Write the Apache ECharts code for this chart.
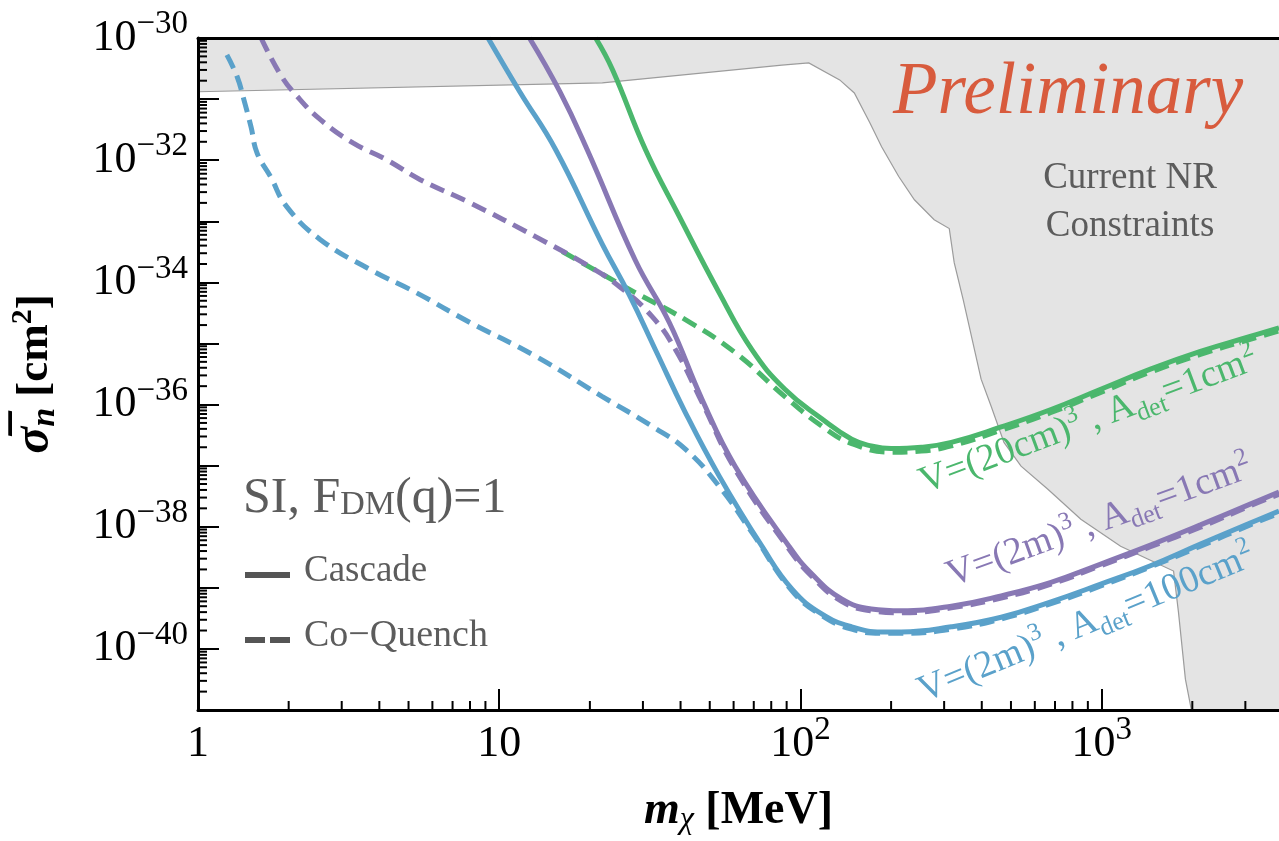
<!DOCTYPE html>
<html><head><meta charset="utf-8">
<script src="https://cdn.jsdelivr.net/npm/echarts@6/dist/echarts.min.js"></script>
<style>html,body{margin:0;padding:0;background:#fff}#c{width:1279px;height:841px}</style>
</head><body><div id="c"></div>
<script>
// ---------- axis ranges / tick labels ----------
const X_MIN = 1, X_MAX = 3880;
const Y_MIN = 1e-41, Y_MAX = 1e-30;
const xTickExps = [0, 1, 2, 3];
const yTickExps = [-41, -40, -39, -38, -37, -36, -35, -34, -33, -32, -31, -30];
const yLabelExps = [-40, -38, -36, -34, -32, -30];

// ---------- Current NR constraints boundary ----------
const nrMass  = [1, 22.0, 86.8, 106.6, 135, 151, 170, 186, 212, 239, 278, 312, 324, 347, 398, 430, 474, 540, 663, 853, 1156, 1422, 1733, 1799, 1897, 1986];
const nrSigma = [1.32e-31, 1.84e-31, 3.6e-31, 3.9e-31, 2.06e-31, 1.26e-31, 4.1e-32, 1.66e-32, 5.4e-33, 2.25e-33, 1.06e-33, 7.6e-34, 2.1e-34, 5.2e-35, 2.6e-36, 9.3e-37, 2.4e-37, 9.8e-38, 4.1e-38, 1.33e-38, 4.8e-39, 2.96e-39, 1.88e-39, 4.0e-40, 3.2e-41, 1e-41];

// ---------- V=(20cm)^3, A=1cm^2 (green) ----------
const greenCascadeMass  = [20.9, 23.8, 30.6, 39.6, 53.7, 69.0, 88.8, 118, 148, 172, 200, 252, 317, 464, 679, 993, 1452, 2128, 3112, 3880];
const greenCascadeSigma = [1e-30, 3.0e-31, 1.48e-32, 1.2e-33, 6.8e-35, 7.9e-36, 1.78e-36, 5.8e-37, 2.7e-37, 2.1e-37, 1.9e-37, 2.0e-37, 2.4e-37, 4.3e-37, 8.3e-37, 1.78e-36, 3.8e-36, 7.4e-36, 1.3e-35, 1.8e-35];
const greenQuenchMass   = [16.2, 21.5, 28.3, 41.5, 60.7, 88.8, 118, 148, 200, 252, 317, 464, 679, 993, 1452, 2128, 3112, 3880];
const greenQuenchSigma  = [3.2e-34, 1.45e-34, 6.8e-35, 2.45e-35, 7.1e-36, 1.35e-36, 4.4e-37, 2.3e-37, 1.66e-37, 1.73e-37, 2.1e-37, 3.8e-37, 7.4e-37, 1.58e-36, 3.4e-36, 6.6e-36, 1.17e-35, 1.6e-35];

// ---------- V=(2m)^3, A=1cm^2 (purple) ----------
const purpleCascadeMass  = [12.6, 15.9, 19.6, 28.3, 36.7, 47.2, 60.7, 91.6, 109, 137, 172, 216, 317, 464, 679, 993, 1452, 2128, 3112, 3880];
const purpleCascadeSigma = [1e-30, 1.32e-31, 1.48e-32, 2.3e-34, 2.2e-35, 1.2e-36, 9.8e-38, 4.8e-39, 1.7e-39, 6.6e-40, 4.5e-40, 4.2e-40, 5.0e-40, 7.4e-40, 1.23e-39, 2.45e-39, 5.0e-39, 1.07e-38, 2.34e-38, 3.7e-38];
const purpleQuenchMass   = [1.62, 1.88, 2.13, 2.55, 3.28, 4.22, 5.47, 8.0, 13.2, 20.0, 25.1, 32.2, 38.5, 47.2, 60.7, 91.6, 109, 137, 172, 216, 317, 464, 679, 993, 1452, 2128, 3112, 3880];
const purpleQuenchSigma  = [1e-30, 2.5e-31, 1.12e-31, 4.6e-32, 1.9e-32, 1.02e-32, 4.8e-33, 2.0e-33, 5.6e-34, 1.8e-34, 8.5e-35, 2.75e-35, 7.9e-36, 1.07e-36, 8.7e-38, 4.3e-39, 1.55e-39, 6.0e-40, 4.2e-40, 3.9e-40, 4.7e-40, 6.8e-40, 1.15e-39, 2.3e-39, 4.7e-39, 9.8e-39, 2.2e-38, 3.4e-38];

// ---------- V=(2m)^3, A=100cm^2 (blue) ----------
const blueCascadeMass  = [9.18, 11.7, 15.4, 22.0, 27.0, 33.0, 41.5, 53.7, 74.5, 93.8, 118, 148, 186, 216, 317, 464, 679, 993, 1452, 2128, 3112, 3880];
const blueCascadeSigma = [1e-30, 1.32e-31, 1.48e-32, 4.2e-34, 6.3e-35, 7.9e-36, 7.4e-37, 6.8e-38, 4.8e-39, 9.5e-40, 3.7e-40, 2.3e-40, 1.9e-40, 1.9e-40, 2.3e-40, 3.3e-40, 5.9e-40, 1.15e-39, 2.3e-39, 5.2e-39, 1.15e-38, 1.8e-38];
const blueQuenchMass   = [1.247, 1.35, 1.42, 1.50, 1.57, 1.74, 1.97, 2.55, 3.73, 5.3, 8.0, 13.2, 22.0, 32.2, 41.5, 53.7, 69.0, 93.8, 118, 148, 186, 216, 317, 464, 679, 993, 1452, 2128, 3112, 3880];
const blueQuenchSigma  = [5.3e-31, 2.3e-31, 9.8e-32, 3.5e-32, 1.32e-32, 5.4e-33, 1.74e-33, 5.0e-34, 1.62e-34, 6.8e-35, 2.2e-35, 6.2e-36, 1.35e-36, 4.4e-37, 1.86e-37, 4.6e-38, 8.1e-39, 8.9e-40, 3.5e-40, 2.1e-40, 1.8e-40, 1.8e-40, 2.1e-40, 3.1e-40, 5.5e-40, 1.07e-39, 2.2e-39, 4.8e-39, 1.07e-38, 1.66e-38];

// ---------- styling ----------
const FONT = '"Liberation Serif","Times New Roman",serif';
const GREEN = '#4bb76d', PURPLE = '#8878b4', BLUE = '#5aa1ca', GREY = '#5c5c5c';
const log = Math.log10;

const chart = echarts.init(document.getElementById('c'), null, {renderer: 'canvas'});

function powLabel(v) {
  const n = Math.round(v);
  if (Math.abs(v - n) > 1e-6) return '';
  if (n === 0) return '{b|1}';
  if (n === 1) return '{b|10}';
  return '{b|10}{s|' + (n < 0 ? '\u2212' + (-n) : n) + '}';
}
const labRich = {
  b: {fontFamily: FONT, fontSize: 44, lineHeight: 60, color: '#000'},
  s: {fontFamily: FONT, fontSize: 33, lineHeight: 33, verticalAlign: 'top', color: '#000'}
};

function lineSeries(ms, ss, color, dashed, z) {
  return {
    type: 'line', data: ms.map((m, i) => [log(m), log(ss[i])]),
    showSymbol: false, symbol: 'none', smooth: 0.45,
    lineStyle: {color: color, width: 5, type: dashed ? [15, 8] : 'solid', cap: 'butt'},
    z: z, silent: true, animation: false, clip: true
  };
}

// minor tick positions (2..9 per decade)
const minorData = [];
for (let d = 0; d <= 3; d++) for (let k = 2; k <= 9; k++) {
  const v = k * Math.pow(10, d);
  if (v < X_MAX) minorData.push([log(v), log(Y_MIN), 0]);
}
for (let d = -41; d < -30; d++) for (let k = 2; k <= 9; k++) {
  minorData.push([log(X_MIN), d + log(k), 1]);
}

function curveLabel(x, y, deg, text, color) {
  return {type: 'text', x: x, y: y, rotation: deg * Math.PI / 180, z: 20, style: {
    text: text, align: 'left', verticalAlign: 'middle', textAlign: 'left', textVerticalAlign: 'middle',
    rich: {
      a: {fontFamily: FONT, fontSize: 38, lineHeight: 48, fill: color},
      p: {fontFamily: FONT, fontSize: 25, lineHeight: 25, fill: color, verticalAlign: 'top'},
      d: {fontFamily: FONT, fontSize: 26, lineHeight: 34, fill: color, verticalAlign: 'bottom'}
    }}};
}

const option = {
  backgroundColor: '#fff',
  animation: false,
  grid: {left: 194, right: 0, top: 38, bottom: 130, containLabel: false},
  xAxis: [{
    type: 'value', position: 'bottom', min: log(X_MIN), max: log(X_MAX), z: 10,
    axisLine: {show: true, onZero: false, lineStyle: {color: '#000', width: 3}},
    axisTick: {show: true, inside: true, length: 21, lineStyle: {color: '#000', width: 2}, customValues: xTickExps},
    axisLabel: {show: true, margin: 4, formatter: powLabel, rich: labRich, customValues: xTickExps},
    splitLine: {show: false},
    name: '{m|m}{c|\u03c7}{t| [MeV]}', nameLocation: 'middle', nameGap: 76,
    nameTextStyle: {rich: {
      m: {fontFamily: FONT, fontSize: 46, fontWeight: 'bold', fontStyle: 'italic', color: '#000', lineHeight: 50},
      c: {fontFamily: FONT, fontSize: 32, fontStyle: 'italic', color: '#000', verticalAlign: 'bottom', lineHeight: 24},
      t: {fontFamily: FONT, fontSize: 46, fontWeight: 'bold', color: '#000', lineHeight: 50}
    }}
  }, {
    type: 'value', position: 'top', min: log(X_MIN), max: log(X_MAX), z: 10,
    axisLine: {show: true, onZero: false, lineStyle: {color: '#000', width: 3}},
    axisTick: {show: false}, axisLabel: {show: false}, splitLine: {show: false}
  }],
  yAxis: [{
    type: 'value', min: log(Y_MIN), max: log(Y_MAX), z: 10,
    axisLine: {show: true, onZero: false, lineStyle: {color: '#000', width: 3}},
    axisTick: {show: true, inside: true, length: 21, lineStyle: {color: '#000', width: 2}, customValues: yTickExps},
    axisLabel: {show: true, margin: 10, formatter: powLabel, rich: labRich, customValues: yLabelExps},
    splitLine: {show: false},
    name: '{s|\u03c3\u0305}{n|n}{t| [cm}{p|2}{t|]}', nameLocation: 'middle', nameGap: 136, nameRotate: 90,
    nameTextStyle: {rich: {
      s: {fontFamily: FONT, fontSize: 50, fontWeight: 'bold', fontStyle: 'italic', color: '#000', lineHeight: 54},
      n: {fontFamily: FONT, fontSize: 34, fontWeight: 'bold', fontStyle: 'italic', color: '#000', verticalAlign: 'bottom', lineHeight: 32},
      t: {fontFamily: FONT, fontSize: 45, fontWeight: 'bold', color: '#000', lineHeight: 54},
      p: {fontFamily: FONT, fontSize: 30, fontWeight: 'bold', color: '#000', verticalAlign: 'top', lineHeight: 30}
    }}
  }],
  series: [
    {
      type: 'custom', z: 1, silent: true, clip: true,
      data: [[0, 0]],
      renderItem: function (params, api) {
        const pts = nrMass.map((m, i) => api.coord([log(m), log(nrSigma[i])]));
        const poly = pts.concat([
          api.coord([log(X_MAX), log(Y_MIN)]),
          api.coord([log(X_MAX), log(Y_MAX)]),
          api.coord([log(X_MIN), log(Y_MAX)])
        ]);
        return {type: 'group', children: [
          {type: 'polygon', shape: {points: poly}, style: {fill: '#e4e4e4', stroke: null}},
          {type: 'polyline', shape: {points: pts}, style: {stroke: '#9c9c9c', lineWidth: 1.2, fill: null}}
        ]};
      }
    },
    lineSeries(greenQuenchMass, greenQuenchSigma, GREEN, true, 3),
    lineSeries(purpleQuenchMass, purpleQuenchSigma, PURPLE, true, 4),
    lineSeries(blueQuenchMass, blueQuenchSigma, BLUE, true, 5),
    lineSeries(greenCascadeMass, greenCascadeSigma, GREEN, false, 6),
    lineSeries(purpleCascadeMass, purpleCascadeSigma, PURPLE, false, 7),
    lineSeries(blueCascadeMass, blueCascadeSigma, BLUE, false, 8),
    {
      type: 'custom', z: 12, silent: true, clip: false,
      data: minorData,
      renderItem: function (params, api) {
        const kind = api.value(2);
        const c = api.coord([api.value(0), api.value(1)]);
        if (kind === 0) {
          return {type: 'line', shape: {x1: c[0], y1: c[1], x2: c[0], y2: c[1] - 9}, style: {stroke: '#000', lineWidth: 2}};
        }
        return {type: 'line', shape: {x1: c[0], y1: c[1], x2: c[0] + 9, y2: c[1]}, style: {stroke: '#000', lineWidth: 2}};
      }
    }
  ],
  graphic: [
    {type: 'text', x: 893, y: 94, z: 20, style: {text: 'Preliminary', font: 'italic 73px "Liberation Serif"', fill: '#d85b3d', textAlign: 'left', textVerticalAlign: 'middle', align: 'left', verticalAlign: 'middle'}},
    {type: 'text', x: 1130, y: 178, z: 20, style: {text: 'Current NR', font: '37px "Liberation Serif"', fill: GREY, textAlign: 'center', textVerticalAlign: 'middle', align: 'center', verticalAlign: 'middle'}},
    {type: 'text', x: 1130, y: 226, z: 20, style: {text: 'Constraints', font: '37px "Liberation Serif"', fill: GREY, textAlign: 'center', textVerticalAlign: 'middle', align: 'center', verticalAlign: 'middle'}},
    {type: 'text', x: 243, y: 474, z: 20, style: {
      text: '{a|SI, F}{d|DM}{a|(q)=1}', textAlign: 'left', textVerticalAlign: 'top', align: 'left', verticalAlign: 'top',
      rich: {
        a: {fontFamily: FONT, fontSize: 50, lineHeight: 48, fill: GREY, verticalAlign: 'top'},
        d: {fontFamily: FONT, fontSize: 34, lineHeight: 20, fill: GREY, verticalAlign: 'bottom'}
      }}},
    {type: 'line', z: 20, shape: {x1: 245, y1: 575, x2: 290, y2: 575}, style: {stroke: '#555', lineWidth: 6}},
    {type: 'line', z: 20, shape: {x1: 245, y1: 640, x2: 290, y2: 640}, style: {stroke: '#555', lineWidth: 6, lineDash: [20, 5]}},
    {type: 'text', x: 304, y: 571, z: 20, style: {text: 'Cascade', font: '37px "Liberation Serif"', fill: GREY, textAlign: 'left', textVerticalAlign: 'middle', align: 'left', verticalAlign: 'middle'}},
    {type: 'text', x: 304, y: 636, z: 20, style: {text: 'Co\u2212Quench', font: '38px "Liberation Serif"', fill: GREY, textAlign: 'left', textVerticalAlign: 'middle', align: 'left', verticalAlign: 'middle'}},
    curveLabel(921, 484, 20.5, '{a|V=(20cm)}{p|3}{a| , A}{d|det}{a|=1cm}{p|2}', GREEN),
    curveLabel(948, 577, 20, '{a|V=(2m)}{p|3}{a| , A}{d|det}{a|=1cm}{p|2}', PURPLE),
    curveLabel(920, 693, 22.5, '{a|V=(2m)}{p|3}{a| , A}{d|det}{a|=100cm}{p|2}', BLUE)
  ]
};
chart.setOption(option);
</script>
</body></html>
